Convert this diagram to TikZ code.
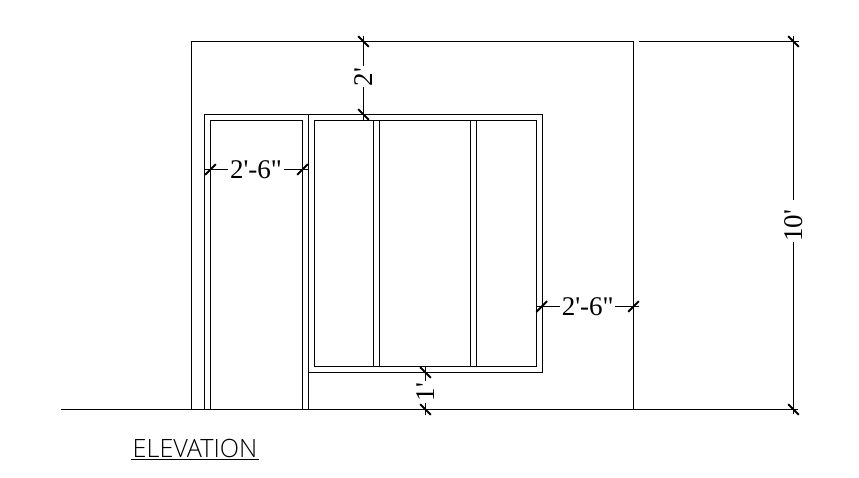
\documentclass[tikz,border=0pt]{standalone}
\usepackage{fontspec}
\newfontfamily\dimfont{Liberation Serif}
\newfontfamily\labelfont[UprightFont=* Light]{Open Sans}
\tikzset{
  wall/.style={line width=1.1pt,line cap=butt,line join=miter},
  dimline/.style={line width=1.1pt},
  tick/.style={line width=2pt},
  dimtext/.style={font=\dimfont\fontsize{27}{27}\selectfont,inner sep=0pt,anchor=center},
  titletext/.style={font=\labelfont\fontsize{25.2}{25.2}\selectfont,inner sep=0pt,anchor=base west},
}
\newcommand{\tickh}[1]{\draw[tick] ([shift={(-5.3,5.3)}]#1) -- ([shift={(5.3,-5.3)}]#1);}
\newcommand{\tickv}[1]{\draw[tick] ([shift={(-5.3,-5.3)}]#1) -- ([shift={(5.3,5.3)}]#1);}
\begin{document}
\begin{tikzpicture}[x=1pt,y=-1pt]
\useasboundingbox (0,0) rectangle (859,477);
% ground and wall
\draw[wall] (61,409.5) -- (798,409.5);
\draw[line width=1.5pt] (639,409.7) -- (733,409.7);
\draw[wall] (191.5,409.5) -- (191.5,41.5) -- (633.5,41.5) -- (633.5,409.5);
\draw[wall] (639,41.5) -- (799,41.5);
% door
\draw[wall] (204.5,409.5) -- (204.5,114.5) -- (308.5,114.5) -- (308.5,409.5);
\draw[wall] (210.5,409.5) -- (210.5,120.5) -- (302.5,120.5) -- (302.5,409.5);
% window
\draw[wall] (308.5,114.5) -- (542.5,114.5) -- (542.5,372.5) -- (308.5,372.5);
\draw[wall] (314.5,120.5) rectangle (536.5,366.5);
\foreach \mx in {373.5,379.5,470.5,476.5}
  \draw[wall] (\mx,120.5) -- (\mx,366.5);
% 2' dimension
\coordinate (a1) at (363.5,41.5); \coordinate (a2) at (363.5,114.5);
\draw[dimline] (363.5,36) -- (363.5,66) (363.5,87) -- (363.5,120.5);
\tickv{a1} \tickv{a2}
\node[dimtext,rotate=90] (t2ft) at (363.5,77) {2'};
% door 2'-6"
\coordinate (b1) at (210.5,169.5); \coordinate (b2) at (302.5,169.5);
\draw[dimline] (205,169.5) -- (228,169.5) (284,169.5) -- (308,169.5);
\tickh{b1} \tickh{b2}
\node[dimtext] (tdoor) at (256,170) {2'-6"};
% right 2'-6"
\coordinate (c1) at (541.7,306.5); \coordinate (c2) at (633.5,306.5);
\draw[dimline] (536,306.5) -- (560,306.5) (615,306.5) -- (639,306.5);
\tickh{c1} \tickh{c2}
\node[dimtext] (tside) at (587.7,307) {2'-6"};
% 1' dimension
\coordinate (d1) at (425.5,372.5); \coordinate (d2) at (425.5,409.5);
\draw[dimline] (425.5,366.5) -- (425.5,381) (425.5,403) -- (425.5,415);
\tickv{d1} \tickv{d2}
\node[dimtext,rotate=90] (t1ft) at (425.5,392) {1'};
% 10' dimension
\coordinate (e1) at (793.5,41.5); \coordinate (e2) at (793.5,409.5);
\draw[dimline] (793.5,36) -- (793.5,200) (793.5,242) -- (793.5,414);
\tickv{e1} \tickv{e2}
\node[dimtext,rotate=90] (t10ft) at (793.5,226) {10'};
% title
\node[titletext] (title) at (132.5,457) {ELEVATION};
\draw[line width=1.2pt] (131,459.5) -- (259,459.5);
\end{tikzpicture}
\end{document}
